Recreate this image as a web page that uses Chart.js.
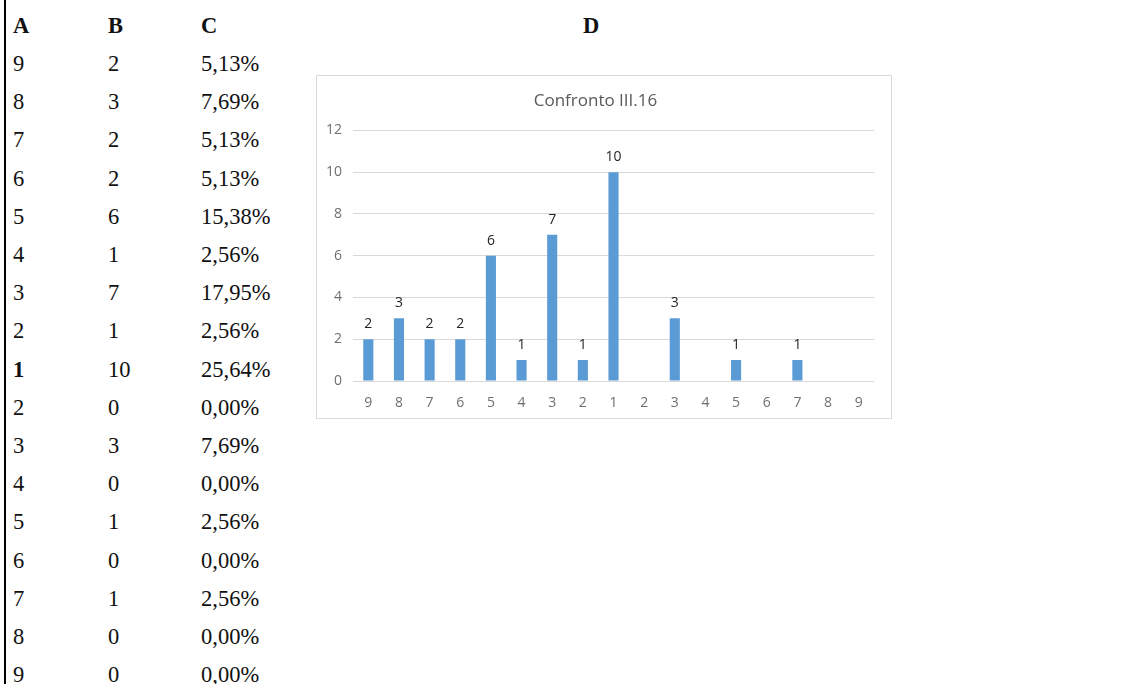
<!DOCTYPE html>
<html>
<head>
<meta charset="utf-8">
<script src="https://cdn.jsdelivr.net/npm/chart.js@4.4.1/dist/chart.umd.min.js"></script>
<style>
  html, body { margin: 0; padding: 0; background: #fff; }
  body { width: 1127px; height: 684px; position: relative; overflow: hidden; }
  #rule { position: absolute; left: 4px; top: 0; width: 2px; height: 684px; background: #000; }
  .cell { position: absolute; font-family: "Liberation Serif", "DejaVu Serif", serif; font-size: 22.5px;
          line-height: 24px; height: 24px; color: #111; white-space: nowrap; }
  .bold { font-weight: bold; }
  #chartBox { position: absolute; left: 316px; top: 75px; width: 574px; height: 342px;
              border: 1px solid #d9d9d9; background: #fff; }
</style>
</head>
<body>
<div id="rule"></div>
<div id="chartBox"><canvas id="chart"></canvas></div>
<script>
// Distance classes (column A), counts (column B) and shares (column C)
const categories = ["9", "8", "7", "6", "5", "4", "3", "2", "1", "2", "3", "4", "5", "6", "7", "8", "9"];
const counts = [2, 3, 2, 2, 6, 1, 7, 1, 10, 0, 3, 0, 1, 0, 1, 0, 0];
const shares = ["5,13%", "7,69%", "5,13%", "5,13%", "15,38%", "2,56%", "17,95%", "2,56%", "25,64%",
                "0,00%", "7,69%", "0,00%", "2,56%", "0,00%", "2,56%", "0,00%", "0,00%"];
const headers = ["A", "B", "C", "D"];
const yTicks = [0, 2, 4, 6, 8, 10, 12];
const chartTitle = "Confronto III.16";

// Table text
const colX = [13, 108, 201];
function addCell(text, x, yCenter, bold) {
  const d = document.createElement("div");
  d.className = "cell" + (bold ? " bold" : "");
  d.textContent = text;
  d.style.left = x + "px";
  d.style.top = (yCenter - 12) + "px";
  document.body.appendChild(d);
}
addCell(headers[0], colX[0], 26, true);
addCell(headers[1], colX[1], 26, true);
addCell(headers[2], colX[2], 26, true);
addCell(headers[3], 583, 26, true);
categories.forEach((c, i) => {
  const y = 64 + i * 38.2;
  addCell(c, colX[0], y, c === "1");
  addCell(String(counts[i]), colX[1], y, false);
  addCell(shares[i], colX[2], y, false);
});

// Value labels above each non-zero bar
const valueLabels = {
  id: "valueLabels",
  afterDatasetsDraw(chart) {
    const ctx = chart.ctx;
    const meta = chart.getDatasetMeta(0);
    ctx.save();
    ctx.font = "14px 'Open Sans', sans-serif";
    ctx.fillStyle = "#262626";
    ctx.textAlign = "center";
    ctx.textBaseline = "middle";
    meta.data.forEach((bar, i) => {
      const v = chart.data.datasets[0].data[i];
      if (v > 0) ctx.fillText(String(v), bar.x, bar.y - 15);
    });
    ctx.restore();
  }
};

Chart.defaults.font.family = "'Open Sans', sans-serif";
Chart.defaults.font.size = 14;
Chart.defaults.color = "#6f6f6f";

new Chart(document.getElementById("chart"), {
  type: "bar",
  data: {
    labels: categories,
    datasets: [{
      data: counts,
      backgroundColor: "#5b9bd5",
      borderWidth: 0,
      categoryPercentage: 1,
      barPercentage: 0.33
    }]
  },
  options: {
    responsive: true,
    maintainAspectRatio: false,
    animation: false,
    layout: { padding: { left: 0, right: 17, top: 0, bottom: 0 } },
    plugins: {
      legend: { display: false },
      tooltip: { enabled: false },
      title: {
        display: true,
        text: chartTitle,
        color: "#595959",
        font: { size: 17, weight: "normal" },
        padding: { top: 15, bottom: 19 }
      }
    },
    scales: {
      x: {
        afterFit(scale) { scale.height = 37; },
        grid: { display: false },
        border: { display: false },
        ticks: { color: "#6f6f6f", font: { size: 14 }, padding: 6 }
      },
      y: {
        min: 0,
        max: 12,
        afterBuildTicks(scale) { scale.ticks = yTicks.map(v => ({ value: v })); },
        afterFit(scale) { scale.width = 36; },
        grid: { color: "#d9d9d9", drawTicks: false },
        border: { display: false },
        ticks: { color: "#6f6f6f", font: { size: 14 }, padding: 11 }
      }
    }
  },
  plugins: [valueLabels]
});
</script>
</body>
</html>
